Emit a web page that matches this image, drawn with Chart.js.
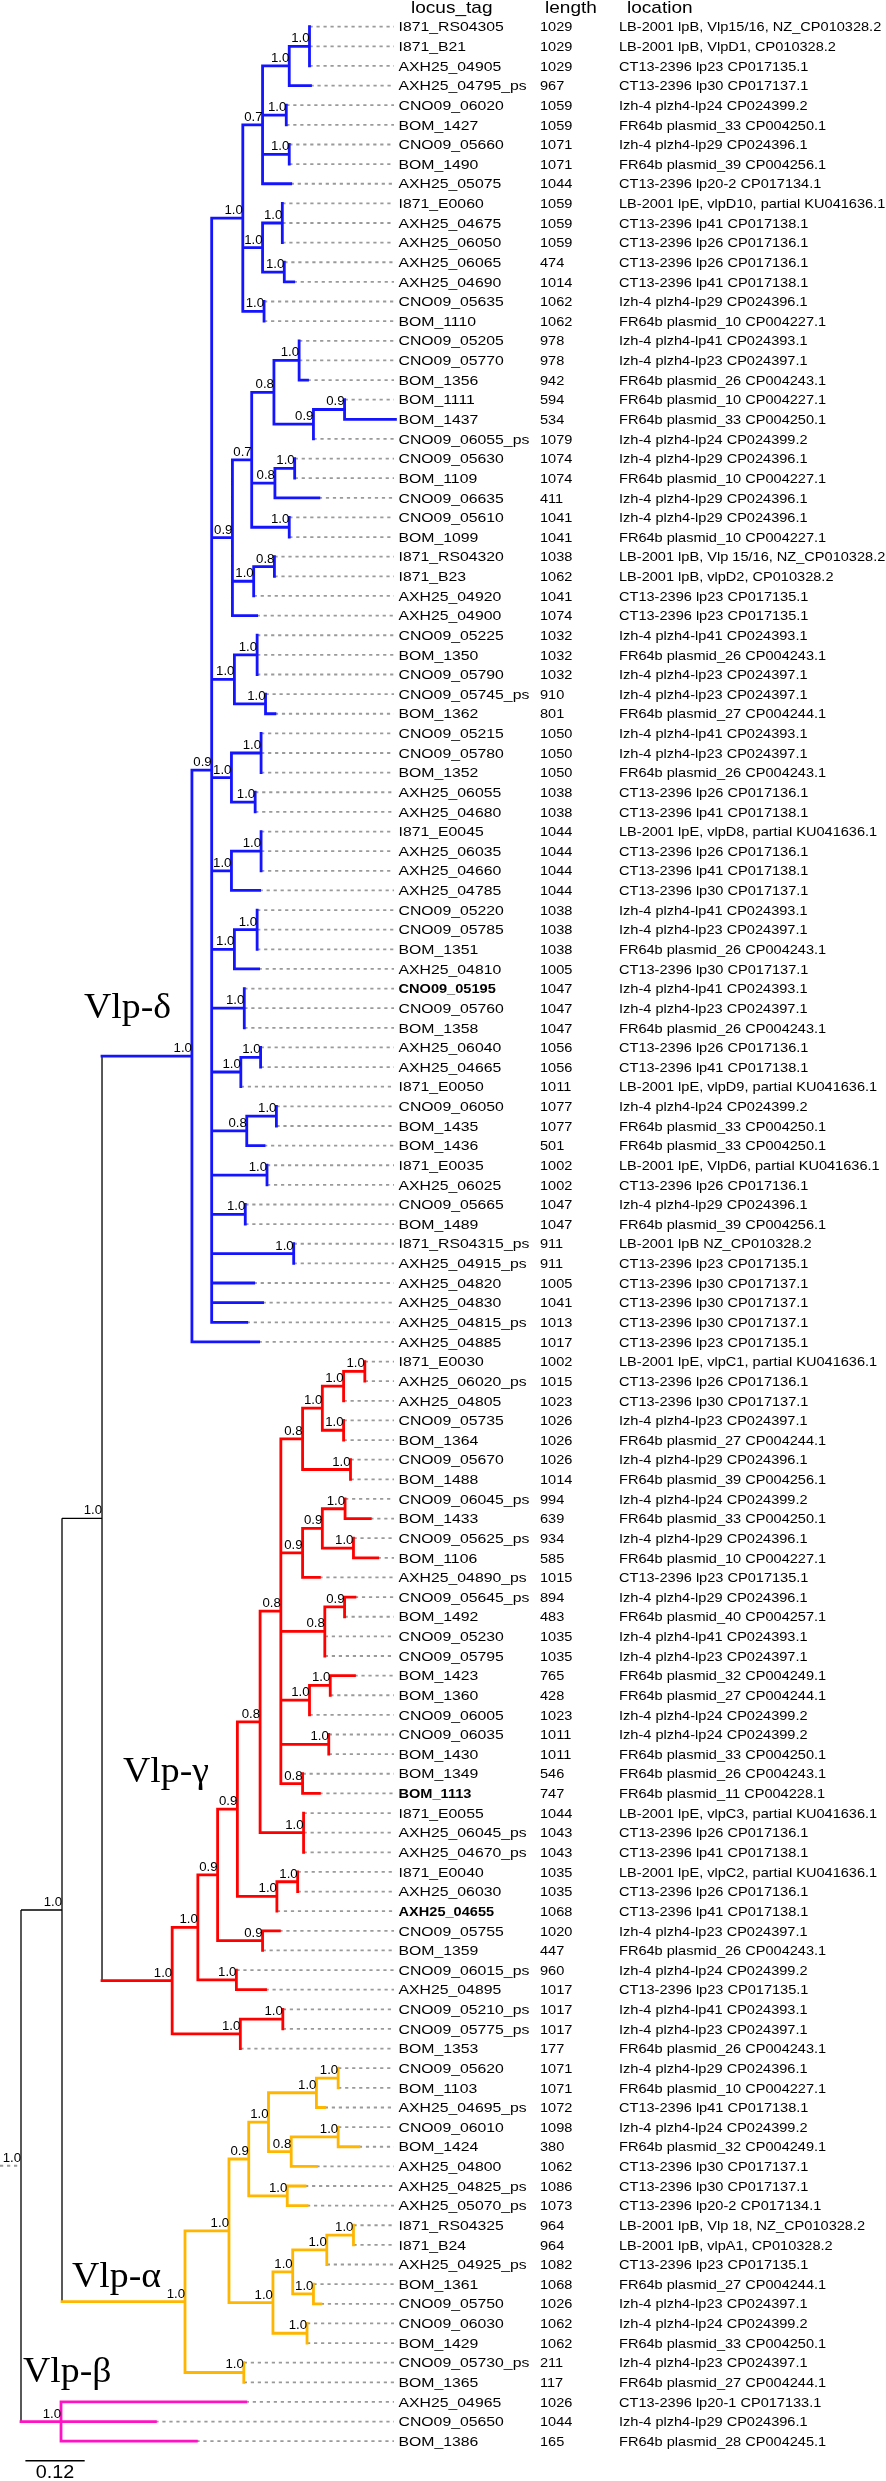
<!DOCTYPE html>
<html><head><meta charset="utf-8">
<script src="https://cdn.jsdelivr.net/npm/chart.js@4.4.1/dist/chart.umd.min.js"></script>
<style>html,body{margin:0;padding:0;background:#fff;}canvas{display:block;}</style>
</head><body>
<canvas id="c" width="886" height="2481" style="width:886px;height:2481px"></canvas>
<script>
// ---------------- DATA ----------------
const columnHeaders = ['locus_tag', 'length', 'location'];
const locusTags = [
'I871_RS04305','I871_B21','AXH25_04905','AXH25_04795_ps','CNO09_06020','BOM_1427','CNO09_05660','BOM_1490','AXH25_05075','I871_E0060',
'AXH25_04675','AXH25_06050','AXH25_06065','AXH25_04690','CNO09_05635','BOM_1110','CNO09_05205','CNO09_05770','BOM_1356','BOM_1111',
'BOM_1437','CNO09_06055_ps','CNO09_05630','BOM_1109','CNO09_06635','CNO09_05610','BOM_1099','I871_RS04320','I871_B23','AXH25_04920',
'AXH25_04900','CNO09_05225','BOM_1350','CNO09_05790','CNO09_05745_ps','BOM_1362','CNO09_05215','CNO09_05780','BOM_1352','AXH25_06055',
'AXH25_04680','I871_E0045','AXH25_06035','AXH25_04660','AXH25_04785','CNO09_05220','CNO09_05785','BOM_1351','AXH25_04810','CNO09_05195',
'CNO09_05760','BOM_1358','AXH25_06040','AXH25_04665','I871_E0050','CNO09_06050','BOM_1435','BOM_1436','I871_E0035','AXH25_06025',
'CNO09_05665','BOM_1489','I871_RS04315_ps','AXH25_04915_ps','AXH25_04820','AXH25_04830','AXH25_04815_ps','AXH25_04885','I871_E0030','AXH25_06020_ps',
'AXH25_04805','CNO09_05735','BOM_1364','CNO09_05670','BOM_1488','CNO09_06045_ps','BOM_1433','CNO09_05625_ps','BOM_1106','AXH25_04890_ps',
'CNO09_05645_ps','BOM_1492','CNO09_05230','CNO09_05795','BOM_1423','BOM_1360','CNO09_06005','CNO09_06035','BOM_1430','BOM_1349',
'BOM_1113','I871_E0055','AXH25_06045_ps','AXH25_04670_ps','I871_E0040','AXH25_06030','AXH25_04655','CNO09_05755','BOM_1359','CNO09_06015_ps',
'AXH25_04895','CNO09_05210_ps','CNO09_05775_ps','BOM_1353','CNO09_05620','BOM_1103','AXH25_04695_ps','CNO09_06010','BOM_1424','AXH25_04800',
'AXH25_04825_ps','AXH25_05070_ps','I871_RS04325','I871_B24','AXH25_04925_ps','BOM_1361','CNO09_05750','CNO09_06030','BOM_1429','CNO09_05730_ps',
'BOM_1365','AXH25_04965','CNO09_05650','BOM_1386'
];
const geneLengths = [
1029,1029,1029,967,1059,1059,1071,1071,1044,1059,
1059,1059,474,1014,1062,1062,978,978,942,594,
534,1079,1074,1074,411,1041,1041,1038,1062,1041,
1074,1032,1032,1032,910,801,1050,1050,1050,1038,
1038,1044,1044,1044,1044,1038,1038,1038,1005,1047,
1047,1047,1056,1056,1011,1077,1077,501,1002,1002,
1047,1047,911,911,1005,1041,1013,1017,1002,1015,
1023,1026,1026,1026,1014,994,639,934,585,1015,
894,483,1035,1035,765,428,1023,1011,1011,546,
747,1044,1043,1043,1035,1035,1068,1020,447,960,
1017,1017,1017,177,1071,1071,1072,1098,380,1062,
1086,1073,964,964,1082,1068,1026,1062,1062,211,
117,1026,1044,165
];
const locations = [
'LB-2001 lpB, Vlp15/16, NZ_CP010328.2','LB-2001 lpB, VlpD1, CP010328.2','CT13-2396 lp23 CP017135.1','CT13-2396 lp30 CP017137.1',
'Izh-4 plzh4-lp24 CP024399.2','FR64b plasmid_33 CP004250.1','Izh-4 plzh4-lp29 CP024396.1','FR64b plasmid_39 CP004256.1',
'CT13-2396 lp20-2 CP017134.1','LB-2001 lpE, vlpD10, partial KU041636.1','CT13-2396 lp41 CP017138.1','CT13-2396 lp26 CP017136.1',
'CT13-2396 lp26 CP017136.1','CT13-2396 lp41 CP017138.1','Izh-4 plzh4-lp29 CP024396.1','FR64b plasmid_10 CP004227.1',
'Izh-4 plzh4-lp41 CP024393.1','Izh-4 plzh4-lp23 CP024397.1','FR64b plasmid_26 CP004243.1','FR64b plasmid_10 CP004227.1',
'FR64b plasmid_33 CP004250.1','Izh-4 plzh4-lp24 CP024399.2','Izh-4 plzh4-lp29 CP024396.1','FR64b plasmid_10 CP004227.1',
'Izh-4 plzh4-lp29 CP024396.1','Izh-4 plzh4-lp29 CP024396.1','FR64b plasmid_10 CP004227.1','LB-2001 lpB, Vlp 15/16, NZ_CP010328.2',
'LB-2001 lpB, vlpD2, CP010328.2','CT13-2396 lp23 CP017135.1','CT13-2396 lp23 CP017135.1','Izh-4 plzh4-lp41 CP024393.1',
'FR64b plasmid_26 CP004243.1','Izh-4 plzh4-lp23 CP024397.1','Izh-4 plzh4-lp23 CP024397.1','FR64b plasmid_27 CP004244.1',
'Izh-4 plzh4-lp41 CP024393.1','Izh-4 plzh4-lp23 CP024397.1','FR64b plasmid_26 CP004243.1','CT13-2396 lp26 CP017136.1',
'CT13-2396 lp41 CP017138.1','LB-2001 lpE, vlpD8, partial KU041636.1','CT13-2396 lp26 CP017136.1','CT13-2396 lp41 CP017138.1',
'CT13-2396 lp30 CP017137.1','Izh-4 plzh4-lp41 CP024393.1','Izh-4 plzh4-lp23 CP024397.1','FR64b plasmid_26 CP004243.1',
'CT13-2396 lp30 CP017137.1','Izh-4 plzh4-lp41 CP024393.1','Izh-4 plzh4-lp23 CP024397.1','FR64b plasmid_26 CP004243.1',
'CT13-2396 lp26 CP017136.1','CT13-2396 lp41 CP017138.1','LB-2001 lpE, vlpD9, partial KU041636.1','Izh-4 plzh4-lp24 CP024399.2',
'FR64b plasmid_33 CP004250.1','FR64b plasmid_33 CP004250.1','LB-2001 lpE, VlpD6, partial KU041636.1','CT13-2396 lp26 CP017136.1',
'Izh-4 plzh4-lp29 CP024396.1','FR64b plasmid_39 CP004256.1','LB-2001 lpB NZ_CP010328.2','CT13-2396 lp23 CP017135.1',
'CT13-2396 lp30 CP017137.1','CT13-2396 lp30 CP017137.1','CT13-2396 lp30 CP017137.1','CT13-2396 lp23 CP017135.1',
'LB-2001 lpE, vlpC1, partial KU041636.1','CT13-2396 lp26 CP017136.1','CT13-2396 lp30 CP017137.1','Izh-4 plzh4-lp23 CP024397.1',
'FR64b plasmid_27 CP004244.1','Izh-4 plzh4-lp29 CP024396.1','FR64b plasmid_39 CP004256.1','Izh-4 plzh4-lp24 CP024399.2',
'FR64b plasmid_33 CP004250.1','Izh-4 plzh4-lp29 CP024396.1','FR64b plasmid_10 CP004227.1','CT13-2396 lp23 CP017135.1',
'Izh-4 plzh4-lp29 CP024396.1','FR64b plasmid_40 CP004257.1','Izh-4 plzh4-lp41 CP024393.1','Izh-4 plzh4-lp23 CP024397.1',
'FR64b plasmid_32 CP004249.1','FR64b plasmid_27 CP004244.1','Izh-4 plzh4-lp24 CP024399.2','Izh-4 plzh4-lp24 CP024399.2',
'FR64b plasmid_33 CP004250.1','FR64b plasmid_26 CP004243.1','FR64b plasmid_11 CP004228.1','LB-2001 lpE, vlpC3, partial KU041636.1',
'CT13-2396 lp26 CP017136.1','CT13-2396 lp41 CP017138.1','LB-2001 lpE, vlpC2, partial KU041636.1','CT13-2396 lp26 CP017136.1',
'CT13-2396 lp41 CP017138.1','Izh-4 plzh4-lp23 CP024397.1','FR64b plasmid_26 CP004243.1','Izh-4 plzh4-lp24 CP024399.2',
'CT13-2396 lp23 CP017135.1','Izh-4 plzh4-lp41 CP024393.1','Izh-4 plzh4-lp23 CP024397.1','FR64b plasmid_26 CP004243.1',
'Izh-4 plzh4-lp29 CP024396.1','FR64b plasmid_10 CP004227.1','CT13-2396 lp41 CP017138.1','Izh-4 plzh4-lp24 CP024399.2',
'FR64b plasmid_32 CP004249.1','CT13-2396 lp30 CP017137.1','CT13-2396 lp30 CP017137.1','CT13-2396 lp20-2 CP017134.1',
'LB-2001 lpB, Vlp 18, NZ_CP010328.2','LB-2001 lpB, vlpA1, CP010328.2','CT13-2396 lp23 CP017135.1','FR64b plasmid_27 CP004244.1',
'Izh-4 plzh4-lp23 CP024397.1','Izh-4 plzh4-lp24 CP024399.2','FR64b plasmid_33 CP004250.1','Izh-4 plzh4-lp23 CP024397.1',
'FR64b plasmid_27 CP004244.1','CT13-2396 lp20-1 CP017133.1','Izh-4 plzh4-lp29 CP024396.1','FR64b plasmid_28 CP004245.1'
];
const boldTags = ['CNO09_05195', 'BOM_1113', 'AXH25_04655'];
const cladeNames = ['Vlp-δ', 'Vlp-γ', 'Vlp-α', 'Vlp-β'];
const cladeNodes = ['delta', 'gamma', 'alpha', 'beta'];
const rootStem = 0.0425;
const scaleBarValue = 0.12;

// topology: [node, support, "child:branchLength ..."]; numbers are leaf rows (1-based)
const backboneNodes = [
 ['root', 1.0, 'A:0.083 beta:0.081'],
 ['A', 1.0, 'B:0.081 alpha:0.249'],
 ['B', 1.0, 'delta:0.182 gamma:0.142'],
 ['beta', 1.0, '122:0.374 123:0.191 124:0.274']
];
const deltaNodes = [
 ['delta', 1.0, 'd1:0.040 68:0.135'],
 ['d1', 0.9, 'd6:0.063 d12:0.042 d24:0.046 d27:0.040 d30:0.040 d32:0.046 d34:0.066 d35:0.059 d37:0.071 d39:0.112 d40:0.068 d41:0.166 65:0.085 66:0.103 67:0.071'],
 ['d6', 1.0, 'd3:0.040 d9:0.040 d8:0.043'],
 ['d3', 0.7, 'd2:0.054 d4:0.048 d5:0.054 9:0.057'],
 ['d2', 1.0, 'dd1:0.041 4:0.043'],
 ['dd1', 1.0, '1:0 2:0 3:0'],
 ['d4', 1.0, '5:0 6:0'],
 ['d5', 1.0, '7:0 8:0'],
 ['d9', 1.0, 'd10:0.040 d11:0.044'],
 ['d10', 1.0, '10:0 11:0 12:0'],
 ['d11', 1.0, '13:0 14:0.019'],
 ['d8', 1.0, '15:0 16:0'],
 ['d12', 0.9, 'd13:0.039 d22:0.043 31:0.049'],
 ['d13', 0.7, 'd14:0.045 d18:0.047 d21:0.076'],
 ['d14', 0.8, 'd15:0.051 d16:0.080'],
 ['d15', 1.0, '17:0 18:0 19:0.017'],
 ['d16', 0.9, 'd17:0.063 22:0'],
 ['d17', 0.9, '20:0 21:0.103'],
 ['d18', 0.8, 'd19:0.040 25:0.089'],
 ['d19', 1.0, '23:0 24:0'],
 ['d21', 1.0, '26:0 27:0'],
 ['d22', 1.0, 'd23:0.042 30:0'],
 ['d23', 0.8, '28:0 29:0'],
 ['d24', 1.0, 'd25:0.046 d26:0.063'],
 ['d25', 1.0, '32:0 33:0 34:0'],
 ['d26', 1.0, '35:0 36:0.019'],
 ['d27', 1.0, 'd28:0.060 d29:0.048'],
 ['d28', 1.0, '37:0 38:0 39:0'],
 ['d29', 1.0, '40:0 41:0'],
 ['d30', 1.0, 'd31:0.060 45:0.057'],
 ['d31', 1.0, '42:0 43:0 44:0'],
 ['d32', 1.0, 'd33:0.046 49:0.049'],
 ['d33', 1.0, '46:0 47:0 48:0'],
 ['d34', 1.0, '50:0 51:0 52:0'],
 ['d35', 1.0, 'd36:0.040 55:0'],
 ['d36', 1.0, '53:0 54:0'],
 ['d37', 0.8, 'd38:0.060 58:0.035'],
 ['d38', 1.0, '56:0 57:0'],
 ['d39', 1.0, '59:0 60:0'],
 ['d40', 1.0, '61:0 62:0'],
 ['d41', 1.0, '63:0 64:0']
];
const gammaNodes = [
 ['gamma', 1.0, 'g1:0.052 g2:0.138'],
 ['g1', 1.0, 'g3:0.040 g4:0.078'],
 ['g3', 0.9, 'g5:0.040 g6:0.091'],
 ['g5', 0.9, 'g7:0.046 g8:0.080'],
 ['g7', 0.8, 'g11:0.042 g10:0.088'],
 ['g11', 0.8, 'g12:0.044 g13:0.044 g14:0.089 g15:0.058 g16:0.097 g17:0.044'],
 ['g12', 0.8, 'g18:0.040 g22:0.097'],
 ['g18', 1.0, 'g19:0.043 g21:0.043'],
 ['g19', 1.0, 'g20:0.043 71:0'],
 ['g20', 1.0, '69:0 70:0'],
 ['g21', 1.0, '72:0 73:0'],
 ['g22', 1.0, '74:0 75:0'],
 ['g13', 0.9, 'g23:0.040 80:0.034'],
 ['g23', 0.9, 'g24:0.046 g25:0.063'],
 ['g24', 1.0, '76:0 77:0.051'],
 ['g25', 1.0, '78:0 79:0.049'],
 ['g14', 0.8, 'g26:0.040 83:0 84:0'],
 ['g26', 0.9, '81:0.021 82:0'],
 ['g15', 1.0, 'g27:0.042 87:0'],
 ['g27', 1.0, '85:0.049 86:0'],
 ['g16', 1.0, '88:0 89:0'],
 ['g17', 0.8, '90:0 91:0.034'],
 ['g10', 1.0, '92:0 93:0 94:0'],
 ['g8', 1.0, 'g9:0.042 97:0'],
 ['g9', 1.0, '95:0 96:0'],
 ['g6', 0.9, '98:0.034 99:0'],
 ['g4', 1.0, '100:0 101:0.059'],
 ['g2', 1.0, 'g2a:0.086 104:0'],
 ['g2a', 1.0, '102:0 103:0']
];
const alphaNodes = [
 ['alpha', 1.0, 'a1:0.089 a2:0.119'],
 ['a1', 1.0, 'a3:0.040 a4:0.089'],
 ['a3', 0.9, 'a5:0.040 a6:0.078'],
 ['a5', 1.0, 'a7:0.097 a9:0.046'],
 ['a7', 1.0, 'a8:0.044 107:0.017'],
 ['a8', 1.0, '105:0 106:0'],
 ['a9', 0.8, 'a10:0.095 110:0.051'],
 ['a10', 1.0, '108:0 109:0.042'],
 ['a6', 1.0, '111:0.036 112:0.040'],
 ['a4', 1.0, 'a11:0.040 a12:0.069'],
 ['a11', 1.0, 'a13:0.069 a15:0.042'],
 ['a13', 1.0, 'a14:0.054 115:0'],
 ['a14', 1.0, '113:0 114:0'],
 ['a15', 1.0, '116:0 117:0.015'],
 ['a12', 1.0, '118:0 119:0'],
 ['a2', 1.0, '120:0 121:0']
];

// ---------------- LAYOUT / STYLE ----------------
const W = 886, H = 2481;
const PX_PER_UNIT = 494, ROOT_PX = 21;
const ROW0_PX = 26.7, ROW_PX = 19.63;
const X_MIN = -ROOT_PX / PX_PER_UNIT, X_MAX = X_MIN + W / PX_PER_UNIT;
const Y_MIN = 1 - ROW0_PX / ROW_PX, Y_MAX = Y_MIN + H / ROW_PX;
const LEADER_END = X_MIN + 394 / PX_PER_UNIT;
const SCALE_X0 = X_MIN + 25.4 / PX_PER_UNIT, SCALE_ROW = 125;
const cladeColors = ['#1414ff', '#ff0000', '#ffb600', '#ff12c4'];
const cladeLabelPos = [[84, 1018], [123, 1782], [72, 2287], [23, 2382]];
const COL_X = [398.5, 540, 619];
const HEAD_X = [411, 545, 627];
const SANS = '"Liberation Sans", Arial, Helvetica, sans-serif';
const SERIF = '"Liberation Serif", "DejaVu Serif", "Times New Roman", serif';

// ---------------- BUILD TREE ----------------
const table = {};
[...backboneNodes, ...deltaNodes, ...gammaNodes, ...alphaNodes].forEach(([id, sup, kids]) => {
  table[id] = { sup, kids: kids.split(' ').map(t => { const [r, l] = t.split(':'); return { ref: r, len: parseFloat(l) }; }) };
});
function buildNode(ref, depth, clade) {
  if (/^\d+$/.test(ref)) return { leaf: +ref, x: depth, y: +ref, clade };
  const ci = cladeNodes.indexOf(ref);
  if (ci >= 0) clade = ci;
  const t = table[ref];
  const kids = t.kids.map(k => buildNode(k.ref, depth + k.len, clade));
  return { id: ref, x: depth, y: (kids[0].y + kids[kids.length - 1].y) / 2, kids, sup: t.sup, clade };
}
const tree = buildNode('root', 0, -1);

const GAP = { x: NaN, y: NaN };
const edges = { black: [], c0: [], c1: [], c2: [], c3: [] };
const leaders = [];
const internals = [];
function collect(node, parent) {
  const key = node.clade < 0 ? 'black' : 'c' + node.clade;
  if (parent && node.x - parent.x > 1e-9) edges[key].push({ x: parent.x, y: node.y }, { x: node.x, y: node.y }, GAP);
  if (node.kids) {
    internals.push(node);
    edges[key].push({ x: node.x, y: node.kids[0].y }, { x: node.x, y: node.kids[node.kids.length - 1].y }, GAP);
    node.kids.forEach(k => collect(k, node));
  } else if (node.x < LEADER_END) {
    leaders.push({ x: node.x, y: node.y }, { x: LEADER_END, y: node.y }, GAP);
  }
}
collect(tree, null);
leaders.push({ x: -rootStem, y: tree.y }, { x: 0, y: tree.y }, GAP);

const lineDs = (data, color, width, order, extra) => Object.assign({
  data, borderColor: color, backgroundColor: color, borderWidth: width, showLine: true,
  pointRadius: 0, pointHoverRadius: 0, spanGaps: false, fill: false, order, borderCapStyle: 'square'
}, extra || {});

const datasets = [
  lineDs(leaders, '#9a9a9a', 1.8, 10, { borderDash: [3.2, 3.8], borderCapStyle: 'butt' }),
  lineDs(edges.black, '#000000', 1.3, 5, { borderCapStyle: 'butt' }),
  lineDs(edges.c0, cladeColors[0], 2.8, 1),
  lineDs(edges.c1, cladeColors[1], 2.8, 1),
  lineDs(edges.c2, cladeColors[2], 2.8, 1),
  lineDs(edges.c3, cladeColors[3], 2.8, 1),
  lineDs([{ x: SCALE_X0, y: SCALE_ROW }, { x: SCALE_X0 + scaleBarValue, y: SCALE_ROW }], '#000000', 1.6, 0, { borderCapStyle: 'butt' })
];

function txt(ctx, s, px, py, font, align, sx, color) {
  ctx.save();
  ctx.font = font; ctx.fillStyle = color || '#000'; ctx.textAlign = align; ctx.textBaseline = 'alphabetic';
  ctx.translate(px, py); ctx.scale(sx, 1); ctx.fillText(s, 0, 0);
  ctx.restore();
}

const textPlugin = {
  id: 'treeText',
  afterDatasetsDraw(chart) {
    const { ctx } = chart; const xs = chart.scales.x, ys = chart.scales.y;
    columnHeaders.forEach((h, i) => txt(ctx, h, HEAD_X[i], 13, '17px ' + SANS, 'left', 1.12));
    locusTags.forEach((tag, i) => {
      const py = ys.getPixelForValue(i + 1) + 4.7;
      const bold = boldTags.includes(tag);
      txt(ctx, tag, COL_X[0], py, (bold ? 'bold ' : '') + '13.5px ' + SANS, 'left', bold ? 1.08 : 1.17);
      txt(ctx, String(geneLengths[i]), COL_X[1], py, '13px ' + SANS, 'left', 1.12);
      txt(ctx, locations[i], COL_X[2], py, '13px ' + SANS, 'left', 1.12);
    });
    internals.forEach(n => {
      txt(ctx, n.sup.toFixed(1), xs.getPixelForValue(n.x), ys.getPixelForValue(n.y) - 4, '12px ' + SANS, 'right', 1.1);
    });
    cladeNames.forEach((c, i) => txt(ctx, c, cladeLabelPos[i][0], cladeLabelPos[i][1], '36px ' + SERIF, 'left', 1.05));
    const mid = xs.getPixelForValue(SCALE_X0 + scaleBarValue / 2);
    txt(ctx, scaleBarValue.toFixed(2), mid, ys.getPixelForValue(SCALE_ROW) + 17.5, '19px ' + SANS, 'center', 1.04);
  }
};

new Chart(document.getElementById('c').getContext('2d'), {
  type: 'scatter',
  data: { datasets },
  options: {
    responsive: false, animation: false, events: [],
    layout: { padding: 0, autoPadding: false },
    scales: {
      x: { type: 'linear', min: X_MIN, max: X_MAX, bounds: 'data', display: false },
      y: { type: 'linear', min: Y_MIN, max: Y_MAX, bounds: 'data', reverse: true, display: false }
    },
    plugins: { legend: { display: false }, tooltip: { enabled: false } }
  },
  plugins: [textPlugin]
});
</script>
</body></html>
